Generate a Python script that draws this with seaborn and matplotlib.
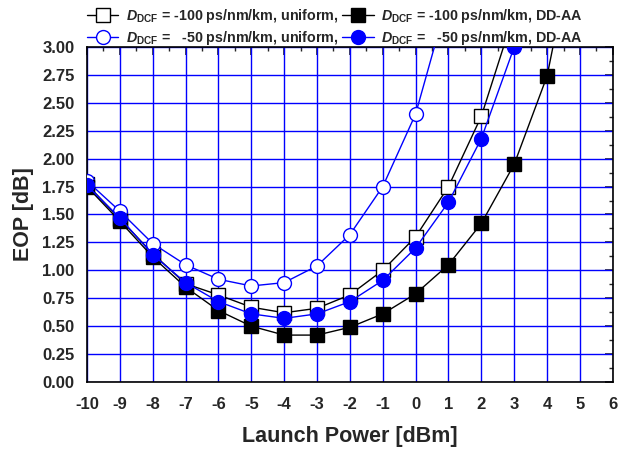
import matplotlib
matplotlib.use("Agg")
import matplotlib.pyplot as plt
from matplotlib.ticker import MultipleLocator
import seaborn as sns
import pandas as pd

power = [-10, -9, -8, -7, -6, -5, -4, -3, -2, -1, 0, 1, 2, 3, 4, 5]
eop_100_uniform = [1.77, 1.46, 1.15, 0.88, 0.78, 0.67, 0.62, 0.66, 0.78, 1.00, 1.30, 1.75, 2.38, 3.30, None, None]
eop_100_ddaa = [1.75, 1.44, 1.12, 0.85, 0.64, 0.50, 0.42, 0.42, 0.49, 0.61, 0.79, 1.05, 1.42, 1.95, 2.74, 4.20]
eop_50_uniform = [1.80, 1.53, 1.24, 1.05, 0.92, 0.86, 0.89, 1.04, 1.32, 1.75, 2.40, 3.45, None, None, None, None]
eop_50_ddaa = [1.76, 1.47, 1.14, 0.89, 0.72, 0.61, 0.57, 0.61, 0.72, 0.91, 1.20, 1.61, 2.18, 3.00, None, None]

labels = [r"$D_{\rm DCF}$ = -100 ps/nm/km, uniform,",
          r"$D_{\rm DCF}$ =   -50 ps/nm/km, uniform,",
          r"$D_{\rm DCF}$ = -100 ps/nm/km, DD-AA",
          r"$D_{\rm DCF}$ =   -50 ps/nm/km, DD-AA"]

sns.set_style("white")
plt.rcParams['font.family'] = ['Liberation Sans', 'DejaVu Sans']
plt.rcParams['font.weight'] = 'bold'
plt.rcParams['axes.unicode_minus'] = False
plt.rcParams['mathtext.fontset'] = 'custom'
plt.rcParams['mathtext.it'] = 'Liberation Sans:bold:italic'
plt.rcParams['mathtext.rm'] = 'Liberation Sans:bold'
plt.rcParams['mathtext.bf'] = 'Liberation Sans:bold'

fig = plt.figure(figsize=(6.19, 4.54), dpi=100)
ax = fig.add_axes([0.1405, 0.1586, 0.8495, 0.7379])

series = [
    (eop_100_uniform, "black", "s", "white", labels[0]),
    (eop_50_uniform, "#0000FF", "o", "white", labels[1]),
    (eop_100_ddaa, "black", "s", "black", labels[2]),
    (eop_50_ddaa, "#0000FF", "o", "#0000FF", labels[3]),
]
for vals, col, mk, fc, lab in series:
    df = pd.DataFrame({"x": power, "y": vals}).dropna()
    sns.lineplot(data=df, x="x", y="y", ax=ax, color=col, marker=mk,
                 markersize=10, markerfacecolor=fc, markeredgecolor=col,
                 markeredgewidth=1.0, linewidth=1.0, label=lab, zorder=3)

ax.set_xlim(-10, 6)
ax.set_ylim(0, 3.0)
ax.xaxis.set_major_locator(MultipleLocator(1))
ax.xaxis.set_minor_locator(MultipleLocator(0.5))
ax.set_yticks([i * 0.25 for i in range(13)])
ax.set_yticklabels([f"{i*0.25:.2f}" for i in range(13)])
ax.yaxis.set_minor_locator(MultipleLocator(0.125))
ax.grid(True, which="major", color="#0000FF", linewidth=1.0)
ax.tick_params(axis="both", which="major", labelsize=12, length=6, width=1.2,
               direction="out", color="black", pad=5)
ax.tick_params(axis="both", which="minor", length=3.5, width=1.0, direction="out")
ax.tick_params(axis="y", which="major", pad=3)
ax.tick_params(axis="both", which="both", top=False, right=False)
sec_x = ax.secondary_xaxis("top")
sec_x.xaxis.set_major_locator(MultipleLocator(1))
sec_x.xaxis.set_minor_locator(MultipleLocator(0.5))
sec_x.tick_params(which="major", direction="in", length=6, width=1.2, labeltop=False)
sec_x.tick_params(which="minor", direction="in", length=3, width=1.0)
sec_x.set_xticklabels([])
sec_y = ax.secondary_yaxis("right")
sec_y.yaxis.set_major_locator(MultipleLocator(0.25))
sec_y.yaxis.set_minor_locator(MultipleLocator(0.125))
sec_y.tick_params(which="major", direction="in", length=6, width=1.2, labelright=False)
sec_y.tick_params(which="minor", direction="in", length=3, width=1.0)
sec_y.set_yticklabels([])
for s in list(sec_x.spines.values()) + list(sec_y.spines.values()):
    s.set_visible(False)

for t in ax.get_xticklabels() + ax.get_yticklabels():
    t.set_fontweight("bold")
for s in ax.spines.values():
    s.set_color("black")
    s.set_linewidth(1.2)

ax.set_xlabel("Launch Power [dBm]", fontsize=15.5, fontweight="bold", labelpad=10)
ax.set_ylabel("EOP [dB]", fontsize=15.5, fontweight="bold", labelpad=6)

leg = ax.legend(loc="lower left", bbox_to_anchor=(0.0, 1.0), ncol=2, frameon=False,
                fontsize=10.3, handlelength=2.2, handletextpad=0.5, columnspacing=0.3,
                labelspacing=0.3, borderaxespad=0.0, borderpad=0.0)

fig.savefig("out.png", dpi=100)
